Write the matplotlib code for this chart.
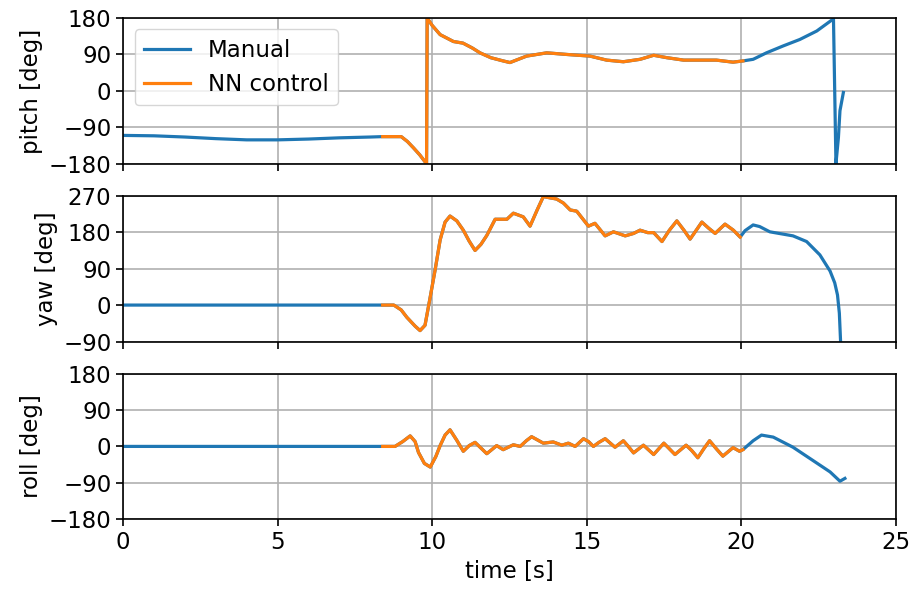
import numpy as np
import matplotlib
matplotlib.use("Agg")
import matplotlib.pyplot as plt

# values (time in s, angles in deg)
t_pitch = [0, 1, 2, 3, 4, 5, 6, 7, 8, 8.4, 9.0, 9.2, 9.4, 9.6, 9.82, 9.84,
           10.0, 10.26, 10.69, 11.0, 11.3, 11.55, 11.9, 12.3, 12.52, 13.06,
           13.71, 14.36, 15.11, 15.65, 16.19, 16.73, 17.17, 17.6, 18.14,
           18.67, 19.2, 19.74, 20.06, 20.39, 20.82, 21.36, 21.9, 22.45,
           22.99, 23.07, 23.15, 23.2, 23.31]
pitch = [-110, -111, -114, -118, -121, -121, -119, -116, -114, -113, -113,
         -125, -141, -158, -180, 180, 162, 139, 122, 118, 106, 94, 82, 74,
         70, 86, 94, 90, 86, 76, 72, 78, 88, 82, 76, 76, 76, 71, 74, 78, 94,
         111, 127, 148, 178, -180, -115, -49, -4]

t_yaw = [0, 4, 8.4, 8.76, 9.0, 9.18, 9.45, 9.61, 9.77, 9.93, 10.1, 10.26,
         10.42, 10.58, 10.8, 11.01, 11.2, 11.39, 11.58, 11.77, 12.04, 12.42,
         12.63, 12.95, 13.17, 13.4, 13.6, 14.03, 14.25, 14.47, 14.68, 15.06,
         15.27, 15.6, 15.87, 16.25, 16.52, 16.73, 16.98, 17.17, 17.44, 17.68,
         17.92, 18.15, 18.35, 18.55, 18.73, 18.95, 19.16, 19.48, 19.75, 19.97,
         20.13, 20.39, 20.6, 20.93, 21.68, 22.12, 22.55, 22.88, 23.03, 23.12,
         23.18, 23.22]
yaw = [0, 0, 0, 0, -12, -30, -52, -63, -50, 16, 88, 161, 205, 220, 208, 185,
       158, 135, 150, 172, 212, 212, 227, 218, 195, 235, 268, 262, 252, 235,
       232, 195, 202, 171, 181, 171, 177, 185, 179, 179, 157, 185, 208, 185,
       163, 185, 205, 190, 177, 200, 185, 168, 184, 198, 194, 181, 171, 157,
       124, 84, 55, 25, -20, -90]

t_roll = [0, 4, 8.4, 8.8, 9.05, 9.29, 9.45, 9.56, 9.75, 9.94, 10.12, 10.26,
          10.42, 10.58, 10.8, 11.01, 11.2, 11.39, 11.58, 11.77, 11.93, 12.09,
          12.3, 12.63, 12.85, 13.05, 13.22, 13.6, 13.92, 14.2, 14.41, 14.63,
          14.9, 15.06, 15.22, 15.4, 15.6, 15.92, 16.19, 16.35, 16.52, 16.84,
          17.17, 17.5, 17.86, 18.22, 18.4, 18.6, 18.8, 18.98, 19.2, 19.41,
          19.74, 19.95, 20.06, 20.39, 20.66, 21.04, 21.68, 22.33, 22.88, 23.2,
          23.36]
roll = [0, 0, 0, 0, 12, 26, 12, -15, -42, -51, -25, 2, 28, 41, 15, -12, 2, 10,
        -4, -18, -8, 2, -8, 4, 0, 14, 24, 8, 11, 3, 8, 0, 19, 12, 0, 10, 19, -2,
        14, 0, -16, 3, -20, 8, -20, 3, -10, -28, -5, 14, -6, -24, -3, -12, -8,
        14, 28, 23, -2, -35, -63, -86, -79]

nn_start, nn_end = 8.4, 20.06

panels = [
    (t_pitch, pitch, "pitch [deg]", (-180, 180), [-180, -90, 0, 90, 180]),
    (t_yaw, yaw, "yaw [deg]", (-90, 270), [-90, 0, 90, 180, 270]),
    (t_roll, roll, "roll [deg]", (-180, 180), [-180, -90, 0, 90, 180]),
]

plt.rcParams["font.size"] = 16.5
fig, axes = plt.subplots(3, 1, sharex=True, figsize=(9.12, 6.01), dpi=100)
fig.subplots_adjust(left=0.135, right=0.982, top=0.970, bottom=0.136, hspace=0.22)

for ax, (t, v, label, lim, ticks) in zip(axes, panels):
    t = np.array(t)
    v = np.array(v)
    nn = (t >= nn_start) & (t <= nn_end)
    ax.plot(t, v, color="#1f77b4", lw=2.3, label="Manual")
    ax.plot(t[nn], v[nn], color="#ff7f0e", lw=2.3, label="NN control")
    ax.set_ylim(*lim)
    ax.set_yticks(ticks)
    ax.set_ylabel(label)
    ax.grid(True, lw=1.2)
    ax.tick_params(length=5, width=1.2)
    for s in ax.spines.values():
        s.set_linewidth(1.2)

axes[-1].set_xlim(0, 25)
axes[-1].set_xlabel("time [s]")
axes[0].legend(loc="upper left")

fig.savefig("out.png")
